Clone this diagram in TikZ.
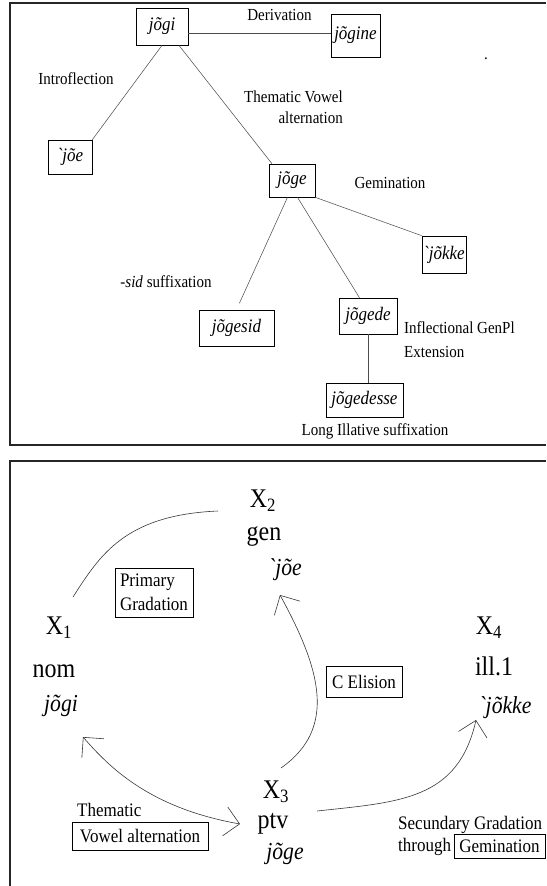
\documentclass[tikz,border=0pt]{standalone}
\usepackage{fontspec}
\setmainfont{Liberation Serif}[Ligatures=TeXOff, FakeStretch=0.89]
\usetikzlibrary{arrows.meta}

\tikzset{
  wordbox/.style={draw, line width=0.6pt, inner sep=0pt, font=\fontsize{16.3}{19}\selectfont\itshape},
  steplabel/.style={inner sep=0pt, font=\fontsize{14.4}{17}\selectfont},
  link/.style={draw=black!70, line width=0.45pt},
  caseform/.style={inner sep=0pt, anchor=base, font=\fontsize{23}{26}\selectfont},
  caseword/.style={inner sep=0pt, anchor=base, font=\fontsize{20.8}{24}\selectfont\itshape},
  rulebox/.style={draw, line width=0.6pt, inner sep=0pt, font=\fontsize{16.3}{19}\selectfont},
  rulelabel/.style={inner sep=0pt, font=\fontsize{16.3}{19}\selectfont},
  change/.style={draw=black!80, line width=0.5pt},
  gradtip/.tip={Straight Barb[length=12.5pt, width=25pt, line width=0.5pt]},
  panelline/.style={draw=black!85, line width=0.9pt}
}

\begin{document}
\begin{tikzpicture}[x=0.03cm, y=-0.03cm]
      \useasboundingbox (0,0) rectangle (546,886);
      % the two panels
      \draw[panelline] (546,3) -- (10,3) -- (10,445) -- (546,445);
      \draw[panelline] (546,461) -- (10,461) -- (10,886);

      % derivation tree
      \draw
        (162,26.5) node[wordbox, minimum width=1.56cm, minimum height=1.11cm] (jogi){jõgi}
        (355.5,35.5) node[wordbox, minimum width=1.47cm, minimum height=1.29cm] (jogine){jõgine}
        (70,157) node[wordbox, minimum width=1.32cm, minimum height=1.02cm] (joe){`jõe}
        (292,180.5) node[wordbox, minimum width=1.38cm, minimum height=0.99cm] (joge){jõge}
        (444,254.5) node[wordbox, minimum width=1.32cm, minimum height=1.11cm] (jokke){`jõkke}
        (236.5,328) node[wordbox, minimum width=2.25cm, minimum height=1.08cm] (jogesid){jõgesid}
        (368,316) node[wordbox, minimum width=1.74cm, minimum height=1.08cm] (jogede){jõgede}
        (364.5,400) node[wordbox, minimum width=2.31cm, minimum height=1.02cm] (jogedesse){jõgedesse};
      \draw
        (279.5,15) node[steplabel] (derivation){Derivation}
        (486,59) node[steplabel] (dot){.}
        (76,79) node[steplabel] (introflection){Introflection}
        (343,107) node[steplabel, anchor=east, align=right, font=\fontsize{14.4}{17.5}\selectfont] (thematic){Thematic Vowel\\alternation}
        (390,183) node[steplabel] (gemination){Gemination}
        (166,282) node[steplabel] (sid){-\textit{sid} suffixation}
        (404,340) node[steplabel, anchor=west, align=left, font=\fontsize{14.4}{20.4}\selectfont] (genpl){Inflectional GenPl\\Extension}
        (375,431) node[steplabel] (illative){Long Illative suffixation};
      \begin{scope}[link]
        \draw (jogi.-14) -- (jogi.-14 -| jogine.west);
        \draw (jogi.south) -- (joe.north east);
        \draw (jogi.-48) -- (joge.140);
        \draw[shorten >=6pt] (joge.-105) -- (jogesid.north);
        \draw (joge.-72) -- (jogede.115);
        \draw (joge.south east) -- (jokke.north west);
        \draw (jogede.south) -- (jogede.south |- jogedesse.north);
      \end{scope}

      % paradigm
      \draw
        (59,634) node[caseform] (x1){X\textsubscript{1}}
        (54,677) node[caseform] (nom){nom}
        (61,711) node[caseword] (nomform){jõgi}
        (263,507) node[caseform] (x2){X\textsubscript{2}}
        (264,540) node[caseform] (gen){gen}
        (285,575) node[caseword] (genform){`jõe}
        (276,798) node[caseform] (x3){X\textsubscript{3}}
        (273,828) node[caseform] (ptv){ptv}
        (285,859) node[caseword] (ptvform){jõge}
        (489,634) node[caseform] (x4){X\textsubscript{4}}
        (494,675) node[caseform] (ill){ill.1}
        (505,713) node[caseword] (illform){`jõkke};
      \draw
        (154,592.5) node[rulebox, align=left, minimum width=2.34cm, minimum height=1.47cm, font=\fontsize{16.3}{20.4}\selectfont] (primary){Primary\\Gradation}
        (364,681.5) node[rulebox, minimum width=2.28cm, minimum height=0.93cm] (elision){C Elision}
        (77,810) node[rulelabel, anchor=west] (themlabel){Thematic}
        (140,836) node[rulebox, minimum width=4.08cm, minimum height=0.84cm] (vowelalt){Vowel alternation}
        (398,825) node[rulelabel, anchor=west] (secundary){Secundary Gradation}
        (398,847) node[rulelabel, anchor=west] (through){through}
        (499.5,846) node[rulebox, minimum width=2.73cm, minimum height=0.72cm] (gemrule){Gemination};
      \coordinate (primary start) at (73,597);
      \coordinate (primary end) at (218,511);
      \coordinate (elision start) at (281,768);
      \coordinate (elision tip) at (280,595);
      \coordinate (thematic nom) at (83,737);
      \coordinate (thematic ptv) at (240,824);
      \coordinate (secundary start) at (317,811);
      \coordinate (secundary tip) at (476,720);
      \begin{scope}[change]
        \draw (primary start) .. controls (100,555) and (125,515) .. (primary end);
        \draw[-gradtip] (elision start) .. controls (338,728) and (320,668) .. (elision tip);
        \draw[gradtip-gradtip] (thematic nom) .. controls (110,768) and (150,808) .. (thematic ptv);
        \draw[-gradtip] (secundary start) .. controls (400,802) and (458,800) .. (secundary tip);
      \end{scope}
    \end{tikzpicture}
\end{document}
